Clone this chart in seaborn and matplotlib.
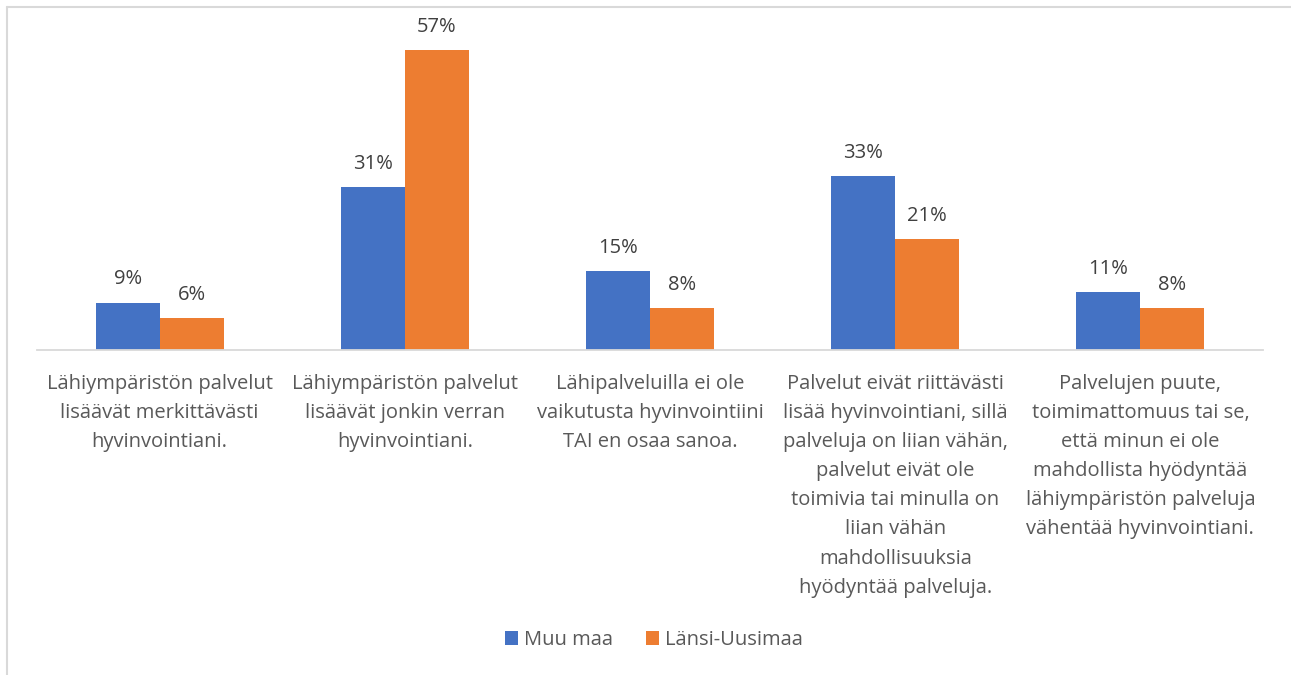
import matplotlib
matplotlib.use("Agg")
import matplotlib.pyplot as plt
import seaborn as sns
import pandas as pd
from matplotlib.lines import Line2D
from matplotlib.patches import Patch

categories = [
    "Lähiympäristön palvelut\nlisäävät merkittävästi\nhyvinvointiani.",
    "Lähiympäristön palvelut\nlisäävät jonkin verran\nhyvinvointiani.",
    "Lähipalveluilla ei ole\nvaikutusta hyvinvointiini\nTAI en osaa sanoa.",
    "Palvelut eivät riittävästi\nlisää hyvinvointiani, sillä\npalveluja on liian vähän,\npalvelut eivät ole\ntoimivia tai minulla on\nliian vähän\nmahdollisuuksia\nhyödyntää palveluja.",
    "Palvelujen puute,\ntoimimattomuus tai se,\nettä minun ei ole\nmahdollista hyödyntää\nlähiympäristön palveluja\nvähentää hyvinvointiani.",
]
series_names = ["Muu maa", "Länsi-Uusimaa"]
muu_maa = [9, 31, 15, 33, 11]
lansi_uusimaa = [6, 57, 8, 21, 8]
colors = ["#4472C4", "#ED7D31"]

FONT_SIZE = 14.5

sns.set_theme(style="white")
plt.rcParams["font.family"] = ["Open Sans", "DejaVu Sans"]

df = pd.DataFrame({
    "kategoria": categories * 2,
    "sarja": [series_names[0]] * len(categories) + [series_names[1]] * len(categories),
    "arvo": muu_maa + lansi_uusimaa,
})

fig = plt.figure(figsize=(12.91, 6.75), dpi=100)
ax = fig.add_axes([37 / 1291, 1 - 350 / 675, (1263 - 37) / 1291, (350 - 34) / 675])

sns.barplot(data=df, x="kategoria", y="arvo", hue="sarja", order=categories,
            hue_order=series_names, palette=colors, width=0.522, saturation=1,
            ax=ax, legend=False, linewidth=0)

ax.set_ylim(0, 60)
ax.set_xlim(-0.5, len(categories) - 0.5)
ax.set_xlabel("")
ax.set_ylabel("")
ax.set_yticks([])
for side in ["top", "right", "left"]:
    ax.spines[side].set_visible(False)
ax.spines["bottom"].set_color("#D9D9D9")
ax.spines["bottom"].set_linewidth(1.3)
ax.tick_params(axis="x", length=0, pad=17, labelsize=FONT_SIZE, labelcolor="#595959")
for lbl in ax.get_xticklabels():
    lbl.set_linespacing(1.61)
    lbl.set_verticalalignment("top")

for cont in ax.containers:
    ax.bar_label(cont, labels=[f"{v:.0f}%" for v in cont.datavalues],
                 padding=9.5, fontsize=FONT_SIZE, color="#404040")

handles = [Patch(facecolor=c, edgecolor="none") for c in colors]
fig.legend(handles, series_names, loc="center", bbox_to_anchor=(654 / 1291, 1 - 640 / 675),
           ncol=2, frameon=False, fontsize=FONT_SIZE, labelcolor="#595959",
           handlelength=0.65, handleheight=0.65, handletextpad=0.3, columnspacing=1.6)

# light frame along the top and left edges
fig.add_artist(Line2D([6.5 / 1291, 6.5 / 1291], [0, 1 - 6.5 / 675], transform=fig.transFigure,
                      color="#D9D9D9", lw=1.5))
fig.add_artist(Line2D([6.5 / 1291, 1], [1 - 6.5 / 675, 1 - 6.5 / 675], transform=fig.transFigure,
                      color="#D9D9D9", lw=1.5))

fig.savefig("out.png", dpi=100, facecolor="white")
